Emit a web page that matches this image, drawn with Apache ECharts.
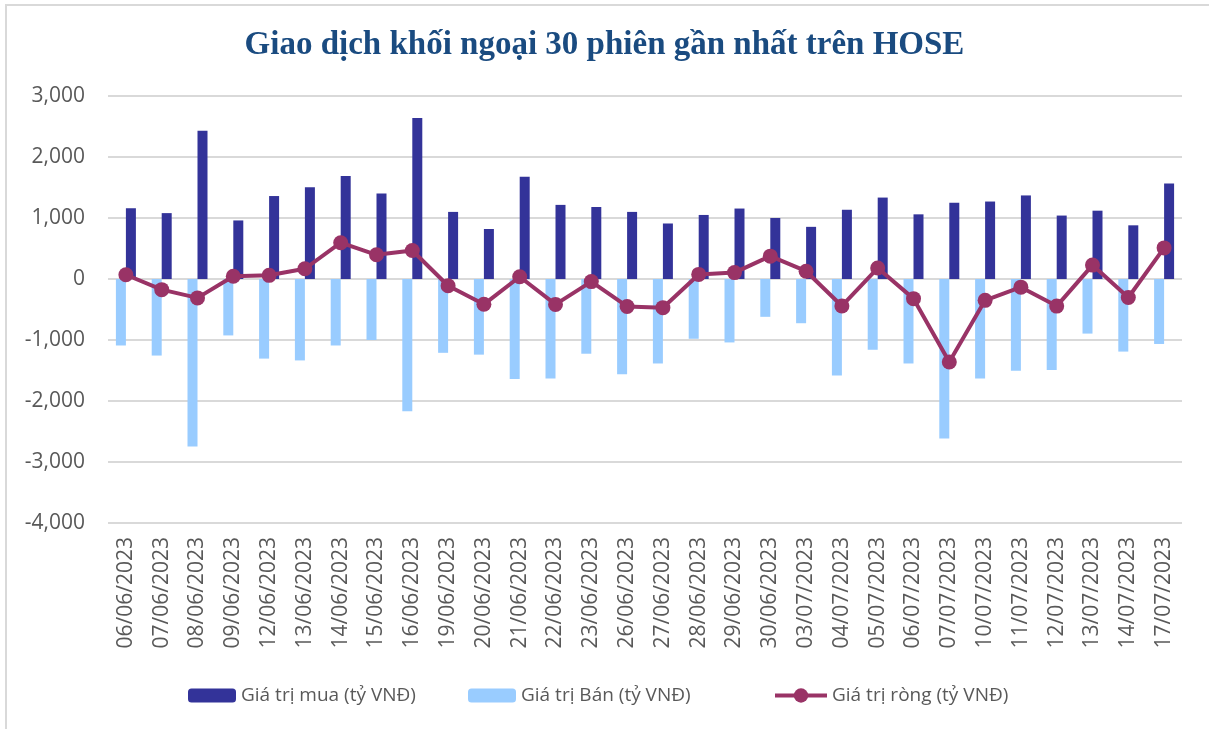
<!DOCTYPE html>
<html>
<head>
<meta charset="utf-8">
<script src="https://cdn.jsdelivr.net/npm/echarts@6/dist/echarts.min.js"></script>
<style>
html,body{margin:0;padding:0;background:#fff;}
#chart{width:1209px;height:729px;}
</style>
</head>
<body>
<div id="chart"></div>
<script>
const categories = ['06/06/2023','07/06/2023','08/06/2023','09/06/2023','12/06/2023','13/06/2023','14/06/2023','15/06/2023','16/06/2023','19/06/2023','20/06/2023','21/06/2023','22/06/2023','23/06/2023','26/06/2023','27/06/2023','28/06/2023','29/06/2023','30/06/2023','03/07/2023','04/07/2023','05/07/2023','06/07/2023','07/07/2023','10/07/2023','11/07/2023','12/07/2023','13/07/2023','14/07/2023','17/07/2023'];
const buyValues = [1160,1080,2430,960,1360,1505,1690,1400,2640,1100,820,1675,1215,1180,1100,910,1050,1155,1000,855,1135,1335,1060,1250,1270,1370,1040,1120,880,1565];
const sellValues = [-1090,-1255,-2745,-925,-1305,-1335,-1090,-1000,-2170,-1210,-1240,-1640,-1630,-1225,-1560,-1385,-980,-1040,-620,-725,-1580,-1160,-1385,-2615,-1630,-1505,-1490,-895,-1190,-1065];
const netValues = [70,-175,-310,45,60,168,595,397,468,-110,-415,37,-416,-43,-450,-470,75,105,375,128,-442,180,-322,-1360,-350,-134,-444,228,-303,510];
const yTicks = {min:-4000, max:3000, interval:1000};
const names = ['Giá trị mua (tỷ VNĐ)','Giá trị Bán (tỷ VNĐ)','Giá trị ròng (tỷ VNĐ)'];
const title = 'Giao dịch khối ngoại 30 phiên gần nhất trên HOSE';

const chart = echarts.init(document.getElementById('chart'));
const axisFont = {color:'#595959', fontFamily:'Open Sans', fontSize:21};
const legendText = {color:'#595959', fontFamily:'Open Sans', fontSize:19};
chart.setOption({
  animation:false,
  backgroundColor:'#fff',
  graphic:[{type:'rect', shape:{x:6, y:5, width:1400, height:1000}, style:{fill:'none', stroke:'#d9d9d9', lineWidth:2}, silent:true}],
  title:{text:title, left:'center', top:24, textStyle:{fontFamily:'Liberation Serif', fontWeight:'bold', fontSize:33, color:'#1a4b80'}},
  legend:[
    {data:[names[0]], left:183, top:681, itemWidth:48, itemHeight:14, textStyle:legendText},
    {data:[names[1]], left:463, top:681, itemWidth:48, itemHeight:14, textStyle:legendText},
    {data:[names[2]], left:768, top:681, itemWidth:52, itemHeight:18, textStyle:legendText,
      lineStyle:{width:4, color:'#993366'}, itemStyle:{color:'#993366'}}
  ],
  grid:{left:108, right:27, top:96, bottom:206, containLabel:false},
  xAxis:{type:'category', data:categories, axisLine:{show:false}, axisTick:{show:false},
    axisLabel:Object.assign({rotate:90, margin:14, interval:0}, axisFont)},
  yAxis:{type:'value', min:yTicks.min, max:yTicks.max, interval:yTicks.interval,
    axisLine:{show:false}, axisTick:{show:false},
    splitLine:{lineStyle:{color:'#d9d9d9', width:2}},
    axisLabel:Object.assign({margin:23, formatter:v=>v.toLocaleString('en-US')}, axisFont)},
  series:[
    {name:names[1], type:'bar', data:sellValues, barWidth:10, barGap:'0%', itemStyle:{color:'#99ccff'}, z:2},
    {name:names[0], type:'bar', data:buyValues, barWidth:10, barGap:'0%', itemStyle:{color:'#333399'}, z:2},
    {name:names[2], type:'line', data:netValues, symbol:'circle', symbolSize:15, lineStyle:{color:'#993366', width:4}, itemStyle:{color:'#993366'}, z:5}
  ]
});
</script>
</body>
</html>
